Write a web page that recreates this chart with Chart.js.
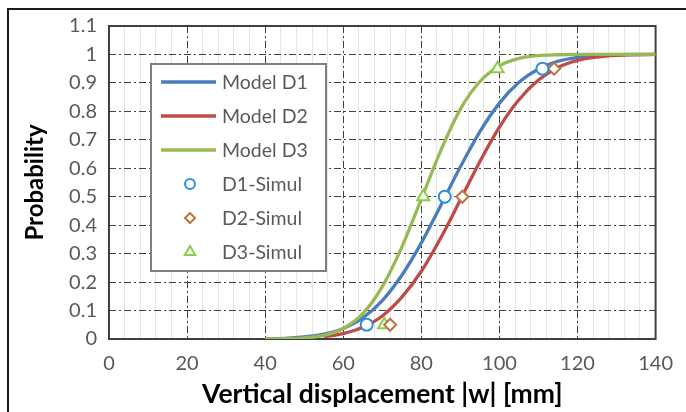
<!DOCTYPE html>
<html>
<head>
<meta charset="utf-8">
<script src="https://cdn.jsdelivr.net/npm/chart.js@4.4.1/dist/chart.umd.min.js"></script>
<style>
html,body{margin:0;padding:0;background:#fff;}
#wrap{width:686px;height:412px;position:relative;}
</style>
</head>
<body>
<div id="wrap"><canvas id="c" width="686" height="412"></canvas></div>
<script>
// ---- data ----
const seriesNames = ['Model D1', 'Model D2', 'Model D3', 'D1-Simul', 'D2-Simul', 'D3-Simul'];
const xD1 = [40, 45, 50, 55, 60, 65, 70, 75, 80, 85, 90, 95, 100, 105, 110, 115, 120, 125, 130, 135, 140];
const yD1 = [0.001, 0.002, 0.007, 0.017, 0.037, 0.074, 0.135, 0.224, 0.338, 0.470, 0.605, 0.729, 0.829, 0.902, 0.949, 0.976, 0.990, 0.996, 0.999, 1.0, 1.0];
const xD2 = [55, 60, 65, 70, 75, 80, 85, 90, 95, 100, 105, 110, 115, 120, 125, 130, 135, 140];
const yD2 = [0.008, 0.019, 0.041, 0.081, 0.147, 0.238, 0.356, 0.489, 0.624, 0.745, 0.841, 0.910, 0.954, 0.979, 0.991, 0.997, 0.999, 1.0];
const xD3 = [40, 45, 50, 55, 60, 65, 70, 75, 80, 85, 90, 95, 100, 105, 110, 115, 120, 125, 130, 135, 140];
const yD3 = [0.0, 0.001, 0.004, 0.013, 0.037, 0.089, 0.184, 0.323, 0.492, 0.663, 0.808, 0.905, 0.960, 0.986, 0.996, 0.999, 1.0, 1.0, 1.0, 1.0, 1.0];
const simX1 = [66, 86, 111];
const simX2 = [72, 90.5, 114];
const simX3 = [70.5, 80.5, 99.5];
const simP = [0.05, 0.5, 0.95];
const xTicksMajor = [0, 20, 40, 60, 80, 100, 120, 140];
const yTicks = [0, 0.1, 0.2, 0.3, 0.4, 0.5, 0.6, 0.7, 0.8, 0.9, 1, 1.1];
const xTitle = 'Vertical displacement |w| [mm]';
const yTitle = 'Probability';

const pts = (xs, ys) => xs.map((x, i) => ({x: x, y: ys[i]}));

const FONT = 'Lato, "Open Sans", sans-serif';
const TXT = '#595959';
const lineCols = ['#4A7EBB', '#BE4B48', '#98B954'];
const markCols = ['#2D8EDF', '#C0733E', '#8CCB4A'];
const markStyles = ['circle', 'rectRot', 'triangle'];
const markRadius = [6, 6, 7];

function lineDs(i, data) {
  return {label: seriesNames[i], data: data, showLine: true, borderColor: lineCols[i], backgroundColor: lineCols[i],
    borderWidth: 3.3, pointRadius: 0, pointHoverRadius: 0, cubicInterpolationMode: 'monotone', fill: false, order: 3 - i};
}
function simDs(i, data) {
  return {label: seriesNames[i + 3], data: data, showLine: false, pointStyle: markStyles[i],
    pointRadius: markRadius[i], pointBorderWidth: 2, pointBorderColor: markCols[i],
    pointBackgroundColor: 'rgba(255,255,255,1)', borderColor: markCols[i], backgroundColor: '#fff', order: 0};
}

const framePlugin = {
  id: 'frame',
  beforeDraw(chart) {
    const ctx = chart.ctx;
    ctx.save();
    ctx.fillStyle = '#fff';
    ctx.fillRect(0, 0, chart.width, chart.height);
    ctx.strokeStyle = '#1a1a1a';
    ctx.lineWidth = 2;
    ctx.beginPath();
    ctx.moveTo(8, chart.height);
    ctx.lineTo(8, 9);
    ctx.lineTo(chart.width, 9);
    ctx.stroke();
    ctx.restore();
  },
  beforeDatasetsDraw(chart) {
    const a = chart.chartArea, ctx = chart.ctx;
    ctx.save();
    ctx.strokeStyle = '#404040';
    ctx.lineWidth = 2;
    ctx.strokeRect(a.left, a.top, a.right - a.left, a.bottom - a.top);
    ctx.restore();
  }
};

function drawMarker(ctx, style, x, y, r, col) {
  ctx.save();
  ctx.strokeStyle = col; ctx.lineWidth = 2; ctx.fillStyle = '#fff';
  ctx.beginPath();
  if (style === 'circle') {
    ctx.arc(x, y, r, 0, Math.PI * 2);
  } else if (style === 'rectRot') {
    ctx.moveTo(x, y - r); ctx.lineTo(x + r, y); ctx.lineTo(x, y + r); ctx.lineTo(x - r, y); ctx.closePath();
  } else {
    ctx.moveTo(x, y - r); ctx.lineTo(x + r * 0.87, y + r * 0.5); ctx.lineTo(x - r * 0.87, y + r * 0.5); ctx.closePath();
  }
  ctx.fill(); ctx.stroke();
  ctx.restore();
}

const legendPlugin = {
  id: 'inlegend',
  afterDraw(chart) {
    const a = chart.chartArea, ctx = chart.ctx;
    const bx = a.left + 42, by = a.top + 38, bw = 175, bh = 207;
    ctx.save();
    ctx.fillStyle = '#fff';
    ctx.fillRect(bx, by, bw, bh);
    ctx.strokeStyle = '#7f7f7f';
    ctx.lineWidth = 2;
    ctx.strokeRect(bx, by, bw, bh);
    ctx.font = '19.5px ' + FONT;
    ctx.textBaseline = 'middle';
    for (let i = 0; i < 6; i++) {
      const y = by + 18 + i * 34;
      if (i < 3) {
        ctx.strokeStyle = lineCols[i];
        ctx.lineWidth = 3.5;
        ctx.beginPath(); ctx.moveTo(bx + 10, y); ctx.lineTo(bx + 65, y); ctx.stroke();
      } else {
        drawMarker(ctx, markStyles[i - 3], bx + 39, y, markRadius[i - 3] - 1, markCols[i - 3]);
      }
      ctx.fillStyle = TXT;
      ctx.fillText(seriesNames[i], bx + 71, y + 1);
    }
    ctx.restore();
  }
};

const DASH = [7, 3, 2, 3];

new Chart(document.getElementById('c'), {
  type: 'scatter',
  data: {
    datasets: [
      lineDs(0, pts(xD1, yD1)), lineDs(1, pts(xD2, yD2)), lineDs(2, pts(xD3, yD3)),
      simDs(0, pts(simX1, simP)), simDs(1, pts(simX2, simP)), simDs(2, pts(simX3, simP))
    ]
  },
  options: {
    responsive: false,
    animation: false,
    devicePixelRatio: 1,
    layout: {padding: {top: 26, right: 23, left: 0, bottom: 0}},
    plugins: {legend: {display: false}, tooltip: {enabled: false}},
    scales: {
      xm: {
        type: 'linear', position: 'bottom', min: 0, max: 140, z: -1,
        ticks: {display: false, stepSize: 4},
        grid: {color: '#e6e6e6', lineWidth: 1, drawTicks: false},
        border: {display: false},
        afterFit(s) { s.height = 0; }
      },
      x: {
        type: 'linear', position: 'bottom', min: 0, max: 140,
        afterBuildTicks(s) { s.ticks = xTicksMajor.map(v => ({value: v})); },
        ticks: {color: TXT, font: {family: FONT, size: 20}, padding: 13, maxRotation: 0},
        grid: {color: '#404040', lineWidth: 1, drawTicks: false},
        border: {display: false, dash: DASH},
        title: {display: true, text: xTitle, color: '#000', font: {family: FONT, size: 26.5, weight: 'bold'}, padding: {top: 0, bottom: 2}},
        afterFit(s) { s.height = 73; }
      },
      y: {
        type: 'linear', min: 0, max: 1.1,
        afterBuildTicks(s) { s.ticks = yTicks.map(v => ({value: v})); },
        ticks: {color: TXT, font: {family: FONT, size: 20}, padding: 12,
          callback: v => String(Math.round(v * 10) / 10)},
        grid: {color: '#404040', lineWidth: 1, drawTicks: false},
        border: {display: false, dash: DASH},
        title: {display: true, text: yTitle, color: '#000', font: {family: FONT, size: 24, weight: 'bold'}, padding: {top: 21, bottom: 0}},
        afterFit(s) { s.width = 109; }
      }
    }
  },
  plugins: [framePlugin, legendPlugin]
});
</script>
</body>
</html>
